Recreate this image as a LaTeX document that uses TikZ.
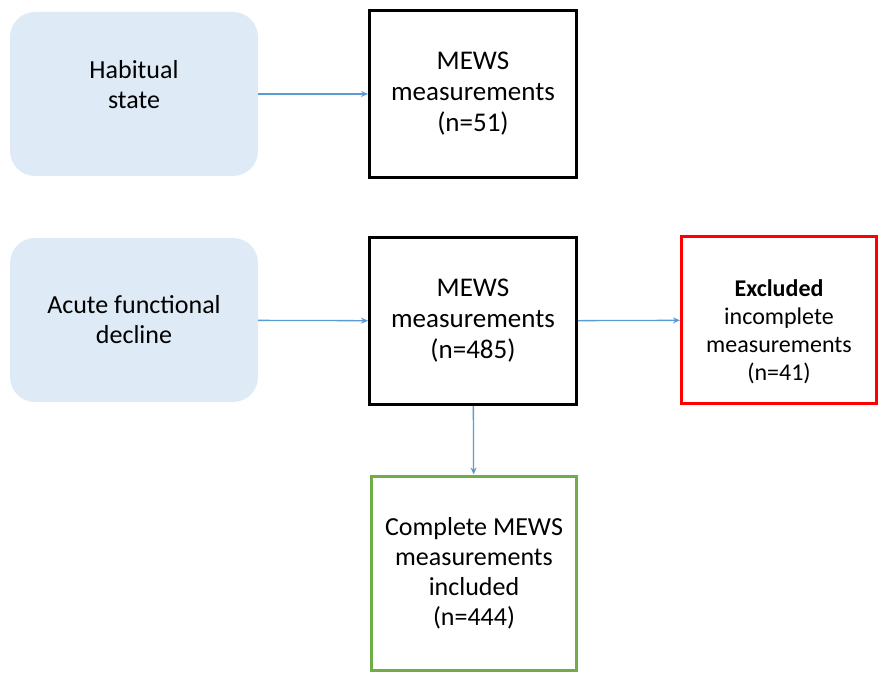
\documentclass[tikz,border=0pt]{standalone}
\usepackage{fontspec}
\setmainfont{Carlito}
\usetikzlibrary{arrows.meta}
\definecolor{paleblue}{HTML}{DEEAF6}
\definecolor{linkblue}{HTML}{5B9BD5}
\definecolor{okgreen}{HTML}{70AD47}
\tikzset{
    phase/.style={rectangle, rounded corners=25pt, fill=paleblue, draw=none,
      minimum width=248pt, minimum height=164pt, align=center,
      font=\fontsize{26}{30}\selectfont},
    count/.style={rectangle, draw=black, line width=3pt, fill=white,
      minimum width=207pt, minimum height=167pt, align=center,
      font=\fontsize{27}{31}\selectfont},
    drop/.style={rectangle, draw=red, line width=3pt, fill=white,
      minimum width=195pt, minimum height=167pt, align=center,
      font=\fontsize{24}{28}\selectfont},
    keep/.style={rectangle, draw=okgreen, line width=3pt, fill=white,
      minimum width=205pt, minimum height=194pt, align=center,
      font=\fontsize{26}{30}\selectfont},
    link/.style={draw=linkblue, line width=1.3pt, -{Stealth[length=7pt,width=6pt]}}
}

\begin{document}
\begin{tikzpicture}
  [
    x = 1pt,
    y = -1pt,
  ]
  \useasboundingbox (0,0) rectangle (880,676);
  \node [phase] (habit) at (134,94) {Habitual\\state\\[-10pt]{}};
  \node [count] (mewsA) at (473,94) {MEWS\\measurements\\(n=51)};
  \node [phase] (acute) at (134,320) {Acute functional\\decline};
  \node [count] (mewsB) at (473,321) {MEWS\\measurements\\(n=485)};
  \node [drop] (excl) at (779,320) {{}\\[12pt]\textbf{Excluded}\\incomplete\\measurements\\(n=41)};
  \node [keep] (incl) at (474,573) {Complete MEWS\\measurements\\included\\(n=444)};
  \draw [link] (habit) -- (mewsA);
  \draw [link] (acute) -- (mewsB);
  \draw [link] (mewsB) -- (excl);
  \draw [link] (mewsB) -- (incl);
\end{tikzpicture}
\end{document}
